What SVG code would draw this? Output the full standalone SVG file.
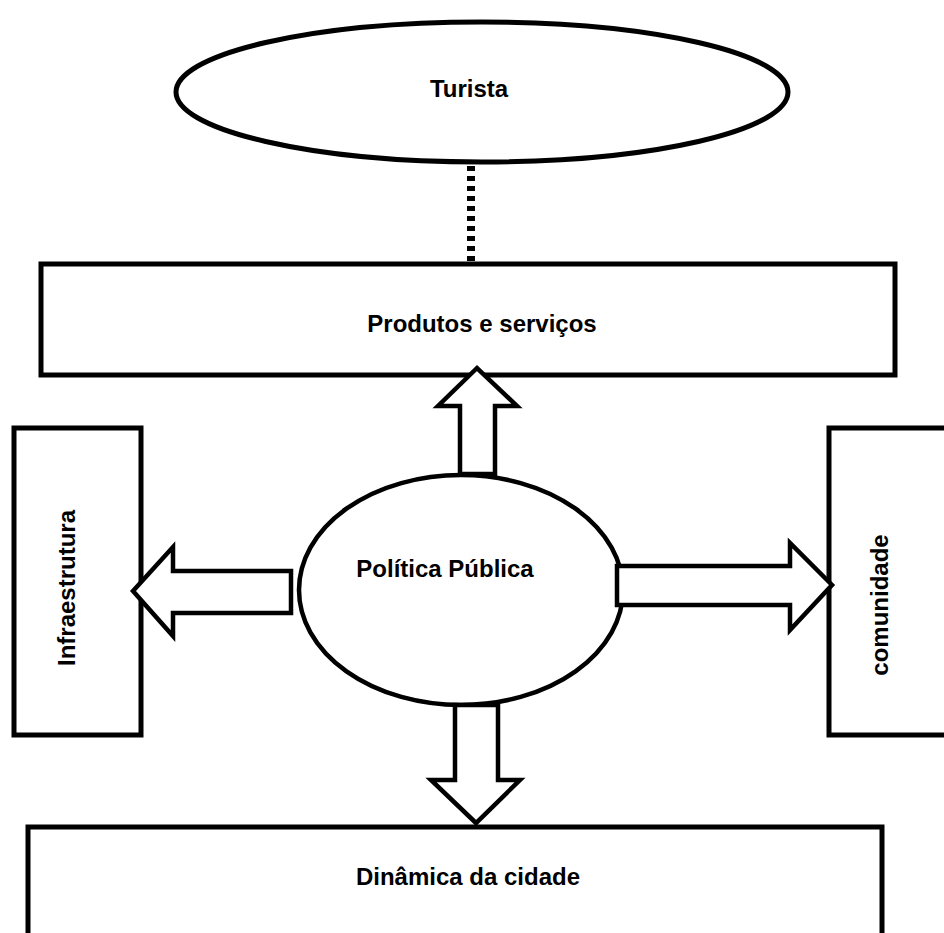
<svg xmlns="http://www.w3.org/2000/svg" width="944" height="933" viewBox="0 0 944 933">
<style>
.shape{fill:#fff;stroke:#000;stroke-width:5}
.arrow{fill:#fff;stroke:#000;stroke-width:4.5;stroke-linejoin:miter}
.lbl{font-family:"Liberation Sans",Arial,sans-serif;font-weight:bold;font-size:24px;fill:#000;text-anchor:middle}
</style>
<rect width="944" height="933" fill="#fff"/>
<g id="turista">
<ellipse class="shape" cx="482" cy="92" rx="306" ry="70"/>
<text class="lbl" x="469" y="97">Turista</text>
</g>
<g id="produtos">
<rect class="shape" x="41" y="264" width="854" height="111"/>
<text class="lbl" x="482" y="332">Produtos e serviços</text>
</g>
<g id="infraestrutura">
<rect class="shape" x="14" y="428" width="127" height="307"/>
<text class="lbl" transform="translate(75,588) rotate(-90)" x="0" y="0">Infraestrutura</text>
</g>
<g id="comunidade">
<rect class="shape" x="829" y="428" width="130" height="307"/>
<text class="lbl" transform="translate(888,605) rotate(-90)" x="0" y="0">comunidade</text>
</g>
<g id="dinamica">
<rect class="shape" x="28" y="827" width="854" height="130"/>
<text class="lbl" x="468" y="885">Dinâmica da cidade</text>
</g>
<g id="politica">
<ellipse class="shape" cx="461" cy="590" rx="162" ry="115" style="stroke-width:4.5"/>
<text class="lbl" x="445" y="577">Política Pública</text>
</g>
<g id="connectors">
<line x1="471" y1="166" x2="471" y2="262" stroke="#000" stroke-width="8" stroke-dasharray="5 5"/>
<polygon class="arrow" points="460,474 460,406 438,406 477,368 517,406 495,406 495,474"/>
<polygon class="arrow" points="455,705 455,780 431,780 476,823 520,780 498,780 498,705"/>
<polygon class="arrow" points="291,571 173,571 173,547 133,591 173,636 173,613 291,613"/>
<polygon class="arrow" points="617,566 790,566 790,543 832,585 790,630 790,605 617,605"/>
</g>
</svg>
